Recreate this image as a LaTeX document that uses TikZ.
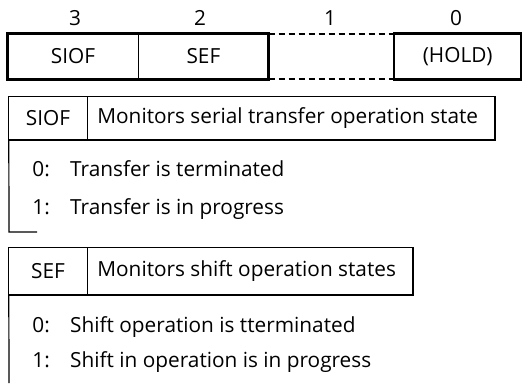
\documentclass[tikz,border=0pt]{standalone}
\usepackage{fontspec}
\setmainfont{Open Sans}
\usetikzlibrary{positioning}
\tikzset{
        every node/.style={inner sep=0pt, font=\fontsize{20.8}{22}\selectfont}, % All text in the same size
        field/.style={ % One bit of the register
            minimum height=45pt},
        bitno/.style={anchor=base},
        cell/.style={ % One cell of a table head
            minimum width=78pt},
        desc/.style={anchor=west, xshift=10pt},
        num/.style={anchor=base east},
        item/.style={anchor=base west},
        thinline/.style={line width=1.2pt}
        }

\begin{document}
\begin{tikzpicture}[x=1pt,y=-1pt]
    \useasboundingbox (0,0) rectangle (522,383);

    % register
    \node[field, minimum width=130pt] (siof) at (73,56.5) {SIOF};
    \node[field, minimum width=130pt, right=0pt of siof] (sef) {SEF};
    \node[field, minimum width=125pt, right=0pt of sef] (gap) {};
    \node[field, minimum width=127pt, right=0pt of gap] (hold) {(HOLD)};

    \node[bitno] (b3) at (75,25) {3};
    \node[bitno] (b2) at (200,25) {2};
    \node[bitno] (b1) at (330,25) {1};
    \node[bitno] (b0) at (456,25) {0};

    \draw[line width=2.8pt] (siof.north west) rectangle (sef.south east);
    \draw[thinline] (siof.north east) -- (siof.south east);
    \draw[line width=1.6pt, dashed, dash pattern=on 6pt off 4pt] (gap.north west) -- (gap.north east);
    \draw[line width=1.6pt, dashed, dash pattern=on 6pt off 4pt] (gap.south west) -- (gap.south east);
    \draw[line width=2.8pt] (hold.north west) rectangle (hold.south east);

    % SIOF table
    \node[cell, minimum height=43pt] (siofname) at (48,118.5) {SIOF};
    \node[desc] (siofdesc) at (siofname.east) {Monitors serial transfer operation state};
    \coordinate (siofend) at (495,140);
    \draw[thinline] (siofname.north west) rectangle (siofend);
    \draw[thinline] (siofname.north east) -- (siofname.south east);
    \coordinate (sioffoot) at (9,232);
    \draw[thinline] (siofname.south west) -- (sioffoot) -- ++(28,0);

    \node[num] (siof0n) at (50,176) {0:};
    \node[item] (siof0) at (70,176) {Transfer is terminated};
    \node[num] (siof1n) at (50,214) {1:};
    \node[item] (siof1) at (70,214) {Transfer is in progress};

    % SEF table
    \node[cell, minimum height=47pt] (sefname) at (48,271.5) {SEF};
    \node[desc] (sefdesc) at (sefname.east) {Monitors shift operation states};
    \coordinate (sefend) at (413,295);
    \draw[thinline] (sefname.north west) rectangle (sefend);
    \draw[thinline] (sefname.north east) -- (sefname.south east);
    \coordinate (seffoot) at (9,383);
    \draw[thinline] (sefname.south west) -- (seffoot);

    \node[num] (sef0n) at (50,332) {0:};
    \node[item] (sef0) at (70,332) {Shift operation is tterminated};
    \node[num] (sef1n) at (50,367) {1:};
    \node[item] (sef1) at (70,367) {Shift in operation is in progress};
\end{tikzpicture}
\end{document}
